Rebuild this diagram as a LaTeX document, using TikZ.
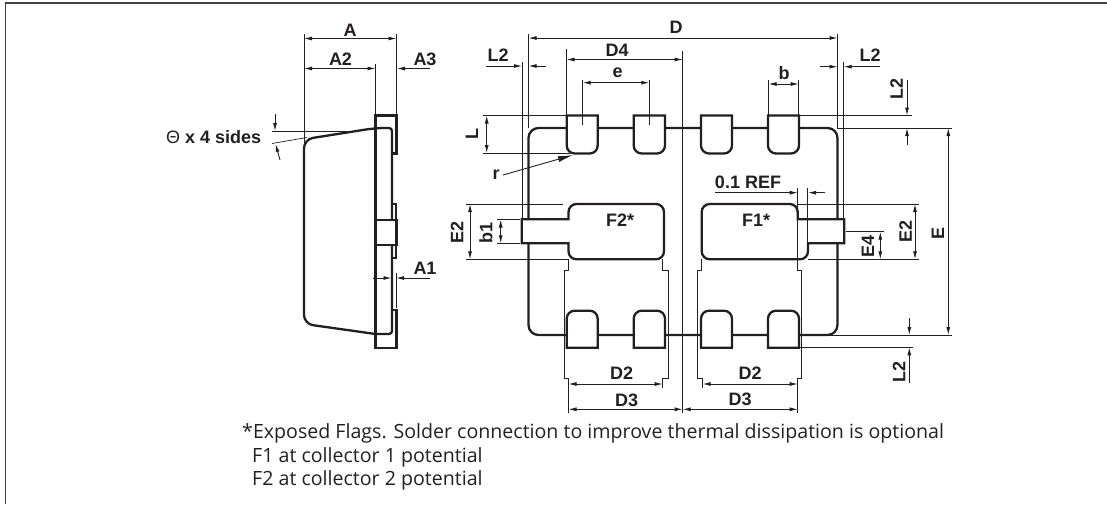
\documentclass[tikz,border=0pt]{standalone}
\usepackage{fontspec}
\setmainfont{Liberation Sans}
\newfontfamily\notefont{Open Sans}
\usetikzlibrary{arrows.meta}
\definecolor{inkblk}{HTML}{231F20}
\tikzset{
  outl/.style={draw=inkblk,line width=2.3pt},
  dimw/.style={draw=inkblk,line width=0.7pt},
  dima/.style={draw=inkblk,line width=0.9pt,{Latex[length=8pt,width=4pt]}-{Latex[length=8pt,width=4pt]}},
  dimr/.style={draw=inkblk,line width=0.9pt,-{Latex[length=8pt,width=4pt]}},
  lbl/.style={inner sep=0pt,text=inkblk,font=\fontsize{18}{20}\selectfont\bfseries},
  note/.style={inner sep=0pt,anchor=west,text=inkblk,font=\notefont\fontsize{19.6}{21}\selectfont}
}
\begin{document}
\begin{tikzpicture}[x=1pt,y=-1pt]
\newcommand{\labels}{A/350/30/0, A2/340.5/59/0, A3/425/59/0, A1/425/268/0, D/676/27/0, D4/617/50/0,
  e/617.5/73/0, L2/498/55/0, L2/870/55/0, b/784/73/0, L/472/134/90, r/496/175/0, E2/457/232/90,
  b1/486/233/90, D2/621.7/373/0, D3/626.7/400/0, D2/750/373/0, D3/740/399/0, L2/896.7/89/90,
  E/938/233/90, E2/905.7/231/90, E4/868/246/90, L2/899/372/90}
\newcommand{\leadxs}{566.7/597.7, 633.7/665, 701/732, 768/799}
\useasboundingbox (0,0) rectangle (1107,504);

% frame
\draw[inkblk!85,line width=1.5pt] (5.3,504) -- (5.3,3) -- (1107,3);

% side view
\draw[outl,rounded corners=3pt] (375.5,128) -- (392,128) -- (392,334) -- (375.5,334)
  [rounded corners=9pt] -- (304,323.9) -- (304,139.3) -- cycle;
\draw[outl] (392,153.5) -- (396.5,153.5) -- (396.5,115.5) -- (375.5,115.5) -- (375.5,348)
  -- (396.5,348) -- (396.5,310) -- (392,310);
\draw[outl,fill=white] (375.5,220) rectangle (396.5,245);
\draw[draw=inkblk,line width=1.2pt] (392,204) -- (396,204) -- (396,220) (396,245) -- (396,258) -- (392,258);

\draw[dimw] (304,34) -- (304,148) (375.5,64) -- (375.5,115) (396.5,34) -- (396.5,115) (396.5,273) -- (396.5,308);
\draw[dima] (304,38.5) -- (396.5,38.5);
\draw[dima] (304,68.5) -- (375.5,68.5);
\draw[dimr] (430,68.5) -- (397,68.5);
\draw[dimr] (373,278) -- (391.5,278);
\draw[dimr] (430,278) -- (396,278);
\draw[dimw] (272,131.5) -- (347,131.5) (272,143.5) -- (307,137.5);
\draw[dimr] (275,114) -- (275,131);
\draw[dimr] (280,160) -- (275.5,144);
\node[lbl,anchor=west] (theta) at (166,137) {{\normalfont\symbol{"0398}} x 4 sides};

% top view
\draw[outl,rounded corners=10pt] (528.5,128) rectangle (837.5,335);
\foreach \xa / \xb in \leadxs {
  \draw[outl,fill=white] (\xa,115.5) -- (\xb,115.5)
    [rounded corners=8pt] -- (\xb,153.5) -- (\xa,153.5) [sharp corners] -- (\xa,115.5) -- cycle;
  \draw[outl,fill=white] (\xa,347.7) -- (\xb,347.7)
    [rounded corners=8pt] -- (\xb,310.7) -- (\xa,310.7) [sharp corners] -- (\xa,347.7) -- cycle;
}
\draw[outl,fill=white] (521.7,219.3) -- (568.5,219.3) [rounded corners=8pt] -- (568.5,204) -- (664,204)
  -- (664,259.3) -- (568.5,259.3) [sharp corners] -- (568.5,243.3) -- (521.7,243.3) -- cycle;
\draw[outl,fill=white] (844.3,219.3) -- (797.7,219.3) [rounded corners=8pt] -- (797.7,204) -- (701.7,204)
  -- (701.7,259.3) -- (808,259.3) [sharp corners] -- (808,243.3) -- (844.3,243.3) -- cycle;
\node[lbl] (ftwo) at (620,220) {F2*};
\node[lbl] (fone) at (756,220) {F1*};

% witness lines
\draw[dimw] (528.5,34) -- (528.5,128) (837.5,34) -- (837.5,128);
\draw[dimw] (566.5,49) -- (566.5,115) (682.7,51) -- (682.7,413);
\draw[dimw] (582.7,80) -- (582.7,125) (649.3,80) -- (649.3,125);
\draw[dimw] (768.5,80) -- (768.5,115) (798.7,80) -- (798.7,115);
\draw[dimw] (522,62) -- (522,219) (843.7,62) -- (843.7,219);
\draw[dimw] (482.7,115.5) -- (566,115.5) (482.7,153) -- (570,153);
\draw[dimw] (466,204) -- (563,204) (466,259.3) -- (568,259.3);
\draw[dimw] (497,219.5) -- (520,219.5) (497,243.3) -- (520,243.3);
\draw[dimw] (568.5,259) -- (568.5,270) -- (564.3,270) -- (564.3,378) -- (568.5,378) -- (568.5,413);
\draw[dimw] (662.7,259) -- (662.7,270) -- (668.7,270) -- (668.7,378) -- (662.7,378) -- (662.7,388);
\draw[dimw] (701.7,259) -- (701.7,270) -- (697,270) -- (697,378) -- (702.7,378) -- (702.7,388);
\draw[dimw] (797.7,188) -- (797.7,270) -- (801.7,270) -- (801.7,378) -- (797.7,378) -- (797.7,413);
\draw[dimw] (807.7,188) -- (807.7,243);
\draw[dimw] (799,115.5) -- (911.7,115.5) (837,128) -- (952,128) (805,335) -- (952,335) (799,347.3) -- (912.7,347.3);
\draw[dimw] (797,204) -- (919,204) (808,259.3) -- (919,259.3) (846,231.7) -- (884,231.7);

% dimension arrows
\draw[dima] (528.5,38) -- (837.5,38);
\draw[dima] (566.5,59.5) -- (682.7,59.5);
\draw[dima] (582.7,82.7) -- (649.3,82.7);
\draw[dima] (768.5,84) -- (798.7,84);
\draw[dimr] (486,66) -- (522,66);
\draw[dimr] (545.7,66) -- (528.5,66);
\draw[dimr] (820,66.7) -- (837.5,66.7);
\draw[dimr] (880,66.7) -- (843.7,66.7);
\draw[dima] (486.7,115.5) -- (486.7,153);
\draw[draw=inkblk,line width=0.9pt,-{Latex[length=15pt,width=6pt]}] (503,175) -- (573,155);
\draw[dima] (470,204) -- (470,259.3);
\draw[dima] (500.7,219.5) -- (500.7,243.3);
\draw[dima] (568.5,384) -- (662.7,384);
\draw[dima] (702.7,384) -- (797.7,384);
\draw[dima] (568.5,409.3) -- (682.7,409.3);
\draw[dima] (682.7,409.3) -- (797.7,409.3);
\draw[dimr] (715,192.7) -- (797.7,192.7);
\draw[dimr] (825,192.7) -- (808,192.7);
\draw[dimr] (907,80) -- (907,115.5);
\draw[dimr] (907,145) -- (907,128);
\draw[dimr] (909.3,318) -- (909.3,335);
\draw[dimr] (909.3,383) -- (909.3,347.3);
\draw[dima] (948.3,128) -- (948.3,335);
\draw[dima] (915,204) -- (915,259.3);
\draw[dima] (880.3,231.7) -- (880.3,259.3);
\node[lbl] (refl) at (748,182) {0.1 REF};

\foreach \txt / \x / \y / \rot in \labels {
  \node[lbl,rotate=\rot] (\txt-\x) at (\x,\y) {\txt};
}

% notes
\node[note] (noteone) at (242,433) {*Exposed Flags. Solder connection to improve thermal dissipation is optional};
\node[note] (notetwo) at (252,457) {F1 at collector 1 potential};
\node[note] (notethree) at (252,480) {F2 at collector 2 potential};
\end{tikzpicture}
\end{document}
